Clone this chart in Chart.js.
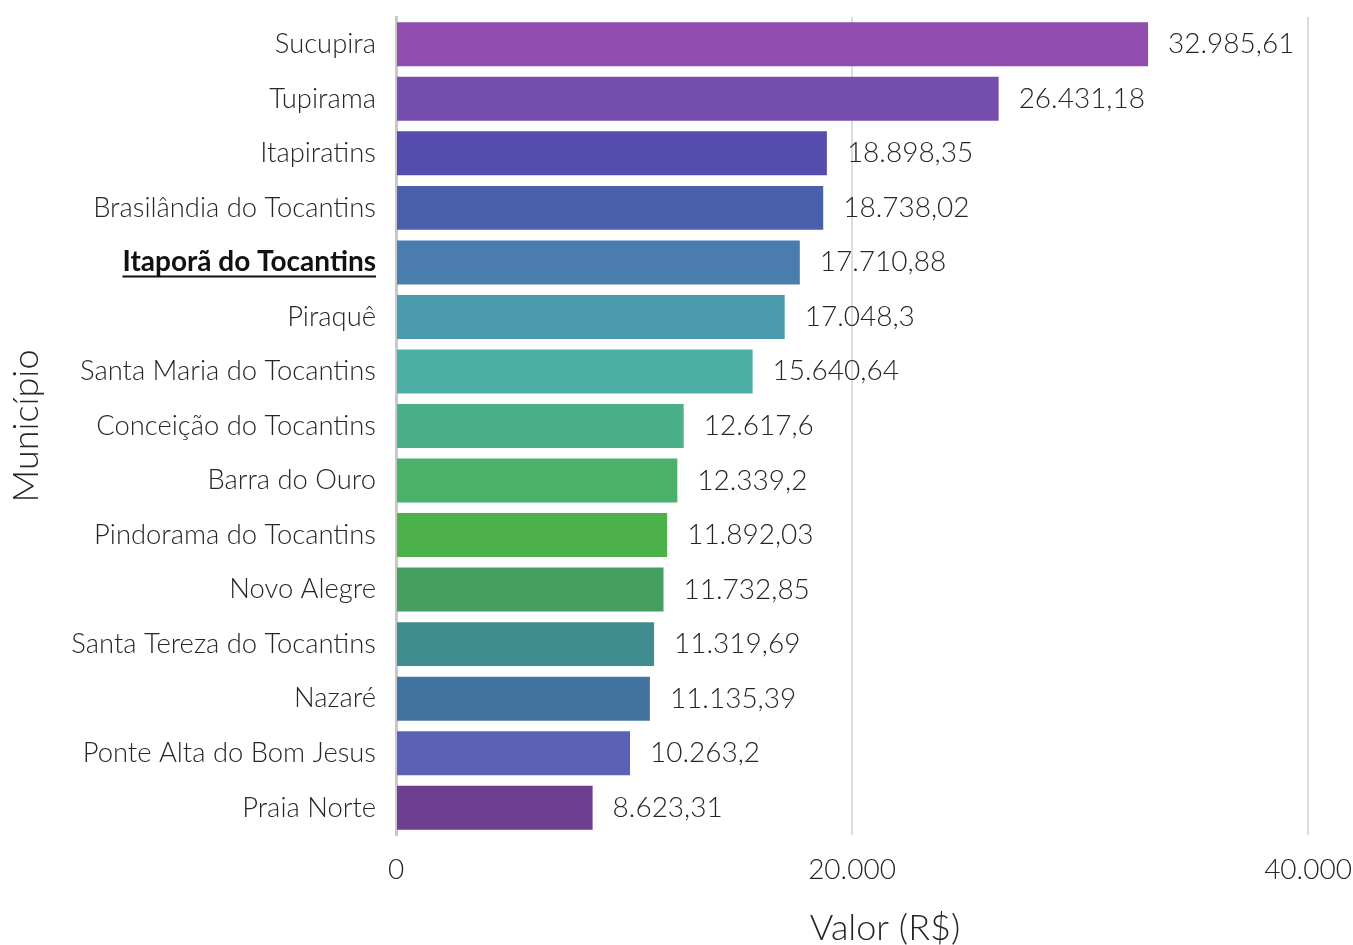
<!DOCTYPE html>
<html>
<head>
<meta charset="utf-8">
<script src="https://cdn.jsdelivr.net/npm/chart.js@4/dist/chart.umd.min.js"></script>
<style>
  html, body { margin: 0; padding: 0; background: #fff; }
  #wrap { width: 1353px; height: 945px; }
</style>
</head>
<body>
<div id="wrap"><canvas id="myChart" width="1353" height="945"></canvas></div>
<script>
// data
const municipios = [
    'Sucupira', 'Tupirama', 'Itapiratins', 'Brasilândia do Tocantins',
    'Itaporã do Tocantins', 'Piraquê', 'Santa Maria do Tocantins',
    'Conceição do Tocantins', 'Barra do Ouro', 'Pindorama do Tocantins',
    'Novo Alegre', 'Santa Tereza do Tocantins', 'Nazaré',
    'Ponte Alta do Bom Jesus', 'Praia Norte'
];
const valores = [
    32985.61, 26431.18, 18898.35, 18738.02, 17710.88, 17048.3, 15640.64,
    12617.6, 12339.2, 11892.03, 11732.85, 11319.69, 11135.39, 10263.2, 8623.31
];
const cores = [
    '#914DAE', '#744DAD', '#564CAD', '#4A60AD', '#4A7CAD', '#4A9BAD', '#4BAEA5',
    '#4BB08A', '#4BB06A', '#4CB04B', '#459F60', '#3F8C8E', '#43749F', '#5B62B6', '#6E3F90'
];
const xTicks = [0, 20000, 40000];
const destaque = 'Itaporã do Tocantins';

const FONT = 'Lato, "Open Sans", sans-serif';
const TXT = '#262626';

// 8623.31 -> 8.623,31
function fmt(v) {
    let [int, dec] = (Math.round(v * 100) / 100).toString().split('.');
    int = int.replace(/\B(?=(\d{3})+(?!\d))/g, '.');
    return dec ? int + ',' + dec : int;
}

const valueLabels = {
    id: 'valueLabels',
    afterDatasetsDraw(chart) {
        const ctx = chart.ctx;
        const meta = chart.getDatasetMeta(0);
        ctx.save();
        ctx.font = '300 28px ' + FONT;
        ctx.fillStyle = TXT;
        ctx.textAlign = 'left';
        ctx.textBaseline = 'middle';
        meta.data.forEach((bar, i) => {
            ctx.fillText(fmt(valores[i]), bar.x + 20, bar.y);
        });
        ctx.restore();
    }
};

// underline under the highlighted label + x title (sits a bit right of centre)
const extras = {
    id: 'extras',
    afterDraw(chart) {
        const y = chart.scales.y;
        const area = chart.chartArea;
        const ctx = chart.ctx;
        ctx.save();
        const idx = municipios.indexOf(destaque);
        if (idx >= 0) {
            ctx.font = 'bold 28px ' + FONT;
            const w = ctx.measureText(destaque).width;
            const right = y.right - 20;
            const py = y.getPixelForTick(idx) + 14;
            ctx.strokeStyle = '#111';
            ctx.lineWidth = 2;
            ctx.beginPath();
            ctx.moveTo(right - w, py);
            ctx.lineTo(right, py);
            ctx.stroke();
        }
        ctx.font = '300 36px ' + FONT;
        ctx.fillStyle = TXT;
        ctx.textAlign = 'center';
        ctx.textBaseline = 'middle';
        ctx.fillText('Valor (R$)', (area.left + area.right) / 2 + 33, chart.height - 17);
        ctx.restore();
    }
};

const chartElem = document.getElementById('myChart').getContext('2d');
const chart = new Chart(chartElem, {
    type: 'bar',
    data: {
        labels: municipios,
        datasets: [{
            data: valores,
            backgroundColor: cores,
            borderWidth: 0,
            categoryPercentage: 1,
            barPercentage: 0.806
        }]
    },
    options: {
        indexAxis: 'y',
        responsive: false,
        animation: false,
        layout: { padding: { top: 17, right: 45, bottom: 0, left: 0 } },
        plugins: {
            legend: { display: false },
            tooltip: { enabled: false }
        },
        scales: {
            x: {
                min: 0,
                max: 40000,
                afterBuildTicks(scale) {
                    scale.ticks = xTicks.map(v => ({ value: v }));
                },
                afterFit(scale) {
                    scale.height = 110;
                    scale.paddingLeft = 0;
                    scale.paddingRight = 0;
                },
                grid: { color: '#dcdcdc', lineWidth: 2, drawTicks: false },
                border: { display: false },
                ticks: {
                    padding: 18,
                    color: TXT,
                    font: { family: FONT, size: 28, weight: '300' },
                    callback: v => fmt(v)
                }
            },
            y: {
                afterFit(scale) {
                    scale.width = 396;
                    scale.paddingTop = 0;
                    scale.paddingBottom = 0;
                },
                grid: { display: false, drawTicks: false },
                border: { display: true, color: '#c8c8c8', width: 3 },
                ticks: {
                    padding: 20,
                    color: ctx => municipios[ctx.index] === destaque ? '#111' : TXT,
                    font: ctx => municipios[ctx.index] === destaque
                        ? { family: FONT, size: 28, weight: 'bold' }
                        : { family: FONT, size: 27.4, weight: '300' }
                },
                title: {
                    display: true,
                    text: 'Município',
                    color: TXT,
                    font: { family: FONT, size: 36, weight: '300' },
                    padding: { top: 5, bottom: 0 }
                }
            }
        }
    },
    plugins: [valueLabels, extras]
});
</script>
</body>
</html>
